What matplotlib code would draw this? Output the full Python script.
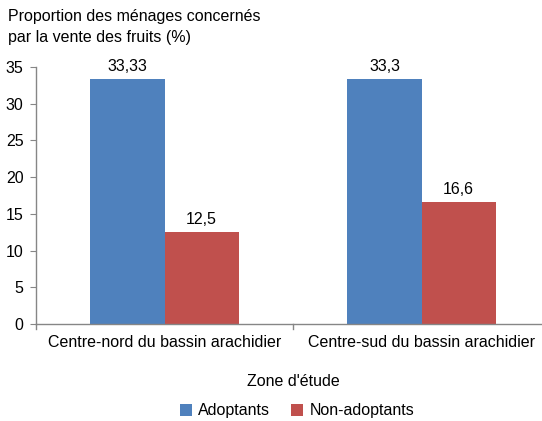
import matplotlib
matplotlib.use("Agg")
import matplotlib.pyplot as plt
import numpy as np

plt.rcParams['font.family'] = ['Liberation Sans', 'DejaVu Sans']

zones = ["Centre-nord du bassin arachidier", "Centre-sud du bassin arachidier"]
adoptants = [33.33, 33.3]
non_adoptants = [12.5, 16.6]
adoptants_labels = ["33,33", "33,3"]
non_adoptants_labels = ["12,5", "16,6"]
yticks = [0, 5, 10, 15, 20, 25, 30, 35]

blue = "#4f81bd"
red = "#c0504d"
axis_color = "#868686"
fs = 11.5

fig = plt.figure(figsize=(5.42, 4.21), dpi=100)
ax = fig.add_axes([36 / 542, 1 - 324 / 421, 514 / 542, (324 - 67) / 421])

x = np.arange(len(zones))
w = 0.288
b1 = ax.bar(x - w / 2, adoptants, w, color=blue, label="Adoptants")
b2 = ax.bar(x + w / 2, non_adoptants, w, color=red, label="Non-adoptants")

for rect, lab in zip(b1, adoptants_labels):
    ax.text(rect.get_x() + rect.get_width() / 2, rect.get_height() + 0.7, lab,
            ha="center", va="bottom", fontsize=fs)
for rect, lab in zip(b2, non_adoptants_labels):
    ax.text(rect.get_x() + rect.get_width() / 2, rect.get_height() + 0.7, lab,
            ha="center", va="bottom", fontsize=fs)

ax.set_xlim(-0.5, 1.5)
ax.set_ylim(0, 35)
ax.set_yticks(yticks)
ax.set_yticklabels([str(v) for v in yticks], fontsize=fs)
ax.set_xticks(x)
ax.set_xticklabels(zones, fontsize=fs)
ax.tick_params(axis="x", length=0, pad=8)
ax.tick_params(axis="y", length=4, color=axis_color, pad=5)

# category separators on the x axis
for xs in [-0.5, 0.5, 1.5]:
    ax.plot([xs, xs], [0, -0.7], color=axis_color, lw=1, clip_on=False)

for side in ["top", "right"]:
    ax.spines[side].set_visible(False)
for side in ["left", "bottom"]:
    ax.spines[side].set_color(axis_color)
    ax.spines[side].set_linewidth(1)

fig.text(8 / 542, 1 - 27 / 421, "Proportion des ménages concernés\npar la vente des fruits (%)",
         ha="left", va="center", fontsize=fs, linespacing=1.5)
fig.text(293 / 542, 1 - 381 / 421, "Zone d'étude", ha="center", va="center", fontsize=fs)

fig.legend(handles=[b1, b2], loc="center", bbox_to_anchor=(297 / 542, 1 - 411 / 421),
           ncol=2, frameon=False, fontsize=fs, handlelength=0.75, handleheight=0.75,
           handletextpad=0.4, columnspacing=1.3)

fig.savefig("out.png", dpi=100)
